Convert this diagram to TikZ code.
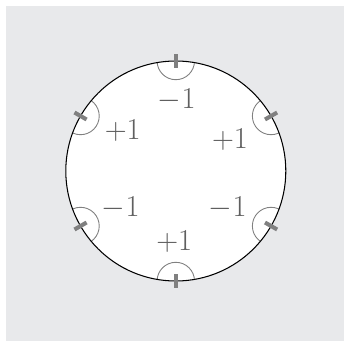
\documentclass[tikz,border=0pt]{standalone}
\usepackage{tikz}
\definecolor{panelgray}{RGB}{232,233,235}
\definecolor{tickgray}{RGB}{128,128,128}
\definecolor{labelgray}{RGB}{95,95,95}
\begin{document}
\begin{tikzpicture}[x=0.02cm, y=0.02cm,
    chargetick/.style={draw=tickgray, line width=2.3pt},
    halfarc/.style={draw=tickgray, line width=0.5pt},
    chargelabel/.style={text=labelgray, inner sep=0pt, font=\fontsize{16.8}{20}\selectfont}]
  % page size and grey panel
  \useasboundingbox (-175.8,-170) rectangle (168.2,171);
  \fill[panelgray] (-169.8,-170) rectangle (168.2,165);

  % the disc
  \coordinate (O) at (0,0);
  \fill[white] (O) circle (110);

  % small half circles at the six points, kept inside the disc
  \begin{scope}
    \clip (O) circle (110);
    \foreach \a in {30,90,...,330} {
      \draw[halfarc] (\a:110) circle (18.7);
    }
  \end{scope}
  \draw[line width=0.6pt] (O) circle (110);

  % ticks across the rim
  \foreach \a in {30,90,...,330} {
    \draw[chargetick] (\a:103) -- (\a:117);
  }

  % labels
  \node[chargelabel] (top)  at (0.9,71)     {$-1$};
  \node[chargelabel] (ul)   at (-53.1,40)   {$+1$};
  \node[chargelabel] (ur)   at (54.2,31.7)  {$+1$};
  \node[chargelabel] (ll)   at (-55.1,-37.3){$-1$};
  \node[chargelabel] (lr)   at (51.9,-37.3) {$-1$};
  \node[chargelabel] (bot)  at (-1.5,-70.7) {$+1$};
\end{tikzpicture}
\end{document}
